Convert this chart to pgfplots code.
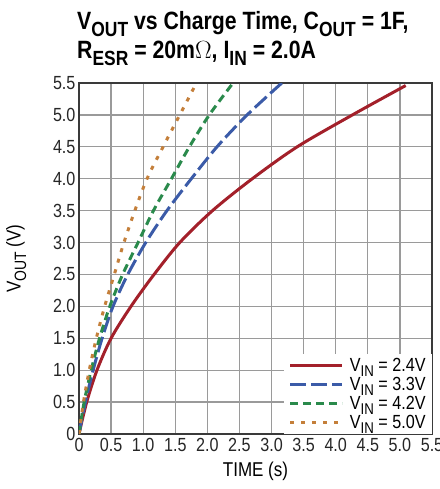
\documentclass[border=0pt]{standalone}
\usepackage{fontspec}
\setmainfont{Liberation Sans}[FakeStretch=0.85]
\usepackage{graphicx}
\usepackage{pgfplots}
\pgfplotsset{compat=1.18}
\usetikzlibrary{calc}

\definecolor{cred}{HTML}{A3202A}
\definecolor{cblue}{HTML}{3B5BA8}
\definecolor{cgreen}{HTML}{2A8A4C}
\definecolor{corange}{HTML}{C47F3A}
\definecolor{cgrid}{HTML}{9A9A9A}
\definecolor{cframe}{HTML}{3A3A3A}

\newcommand{\sub}[1]{\raisebox{-0.28em}{\scalebox{0.82}{#1}}}

\begin{document}
\begin{tikzpicture}
\begin{axis}[
    width=353pt, height=351pt, scale only axis,
    xmin=0, xmax=5.5, ymin=0, ymax=5.5,
    xtick={0,0.5,1,1.5,2,2.5,3,3.5,4,4.5,5,5.5},
    ytick={0,0.5,1,1.5,2,2.5,3,3.5,4,4.5,5,5.5},
    xticklabels={0,0.5,1.0,1.5,2.0,2.5,3.0,3.5,4.0,4.5,5.0,5.5},
    yticklabels={0,0.5,1.0,1.5,2.0,2.5,3.0,3.5,4.0,4.5,5.0,5.5},
    /pgf/number format/assume math mode=true,
    tick label style={font=\fontsize{19}{19}\selectfont, text=black!85},
    xticklabel style={yshift=-1pt},
    major tick length=0pt,
    grid=major,
    major grid style={cgrid, line width=1.2pt},
    axis line style={cframe, line width=1.6pt},
    xlabel={TIME (s)},
    xlabel style={at={(axis description cs:0.5,-0.105)}, anchor=center, font=\fontsize{20}{22}\selectfont},
    ylabel={V\sub{OUT} (V)},
    ylabel style={at={(axis description cs:-0.178,0.5)}, anchor=center, font=\fontsize{20}{22}\selectfont},
    legend style={at={(1,0)}, anchor=south east, draw=none, fill=white,
        font=\fontsize{19}{21}\selectfont, inner xsep=5pt, inner ysep=3pt,
        row sep=1.8pt, column sep=5pt, nodes={inner sep=1.2pt}},
    legend cell align=left,
    legend image code/.code={\draw[#1] (0pt,0pt) -- (52pt,0pt);},
]
\addplot[cred, line width=3pt, smooth, tension=0.5] coordinates {
    (0,0) (0.12,0.5) (0.28,1.0) (0.50,1.5) (0.81,2.0) (1.17,2.5) (1.57,3.0)
    (2.08,3.5) (2.70,4.0) (3.40,4.5) (4.26,5.0) (5.09,5.46)
};
\addplot[cblue, line width=3pt, smooth, tension=0.5, dash pattern=on 16pt off 5pt] coordinates {
    (0,0) (0.10,0.5) (0.22,1.0) (0.36,1.5) (0.53,2.0) (0.76,2.5) (1.04,3.0)
    (1.37,3.5) (1.75,4.0) (2.15,4.5) (2.62,5.0) (3.16,5.5)
};
\addplot[cgreen, line width=3pt, smooth, tension=0.5, dash pattern=on 8pt off 5pt] coordinates {
    (0,0) (0.08,0.5) (0.19,1.0) (0.32,1.5) (0.48,2.0) (0.68,2.5) (0.92,3.0)
    (1.16,3.5) (1.44,4.0) (1.72,4.5) (2.03,5.0) (2.40,5.5)
};
\addplot[corange, line width=3pt, smooth, tension=0.5, dash pattern=on 4pt off 7pt] coordinates {
    (0,0) (0.07,0.5) (0.16,1.0) (0.27,1.5) (0.40,2.0) (0.55,2.5) (0.70,3.0)
    (0.87,3.5) (1.06,4.0) (1.31,4.5) (1.57,5.0) (1.83,5.5)
};
\legend{V\sub{IN} = 2.4V, V\sub{IN} = 3.3V, V\sub{IN} = 4.2V, V\sub{IN} = 5.0V}
\end{axis}
\node[anchor=base west, inner sep=0pt, font=\bfseries\fontsize{25}{29}\selectfont]
    at ($(current axis.north west)+(-2pt,53pt)$)
    {V\sub{OUT} vs Charge Time, C\sub{OUT} = 1F,};
\node[anchor=base west, inner sep=0pt, font=\bfseries\fontsize{25}{29}\selectfont]
    at ($(current axis.north west)+(-2pt,24pt)$)
    {R\sub{ESR} = 20m$\Omega$, I\sub{IN} = 2.0A};
\pgfresetboundingbox
\useasboundingbox ($(current axis.south west)+(-79pt,-55pt)$) rectangle ($(current axis.north east)+(8pt,83pt)$);
\end{tikzpicture}
\end{document}
